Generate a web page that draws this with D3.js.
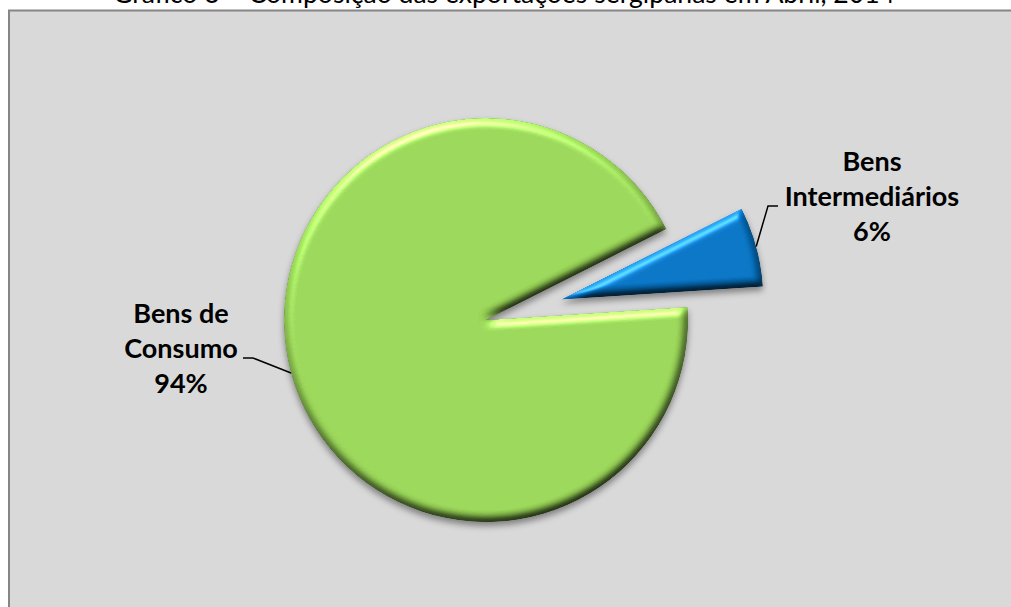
<!DOCTYPE html>
<html>
<head>
<meta charset="utf-8">
<script src="https://cdn.jsdelivr.net/npm/d3@7"></script>
<style>
  html, body { margin: 0; background: #fff; overflow: hidden; }
  svg { display: block; }
  text { font-family: Lato, "Liberation Sans", sans-serif; }
</style>
</head>
<body>
<div id="graph"></div>
<script>
// Data
const categories = ['Bens de Consumo', 'Bens Intermediários'];
const shares = [93.6, 6.4];
const labelNames = [['Bens de', 'Consumo'], ['Bens', 'Intermediários']];
const colors = ['#98d556', '#0572c2'];
const title = 'Gráfico 3 – Composição das exportações sergipanas em Abril, 2014';

const width = 1011, height = 607;
const cx = 486, cy = 320, radius = 202;
const rotation = 86.3 * Math.PI / 180;
const explode = [0, 78];

// label layout (x centre, first baseline, leader start)
const labelLayout = [
  { x: 181, y: 323, lx: 243, ly: 358, side: 1 },
  { x: 872, y: 171, lx: 778, ly: 206, side: -1 },
];
const lineH = 35;

const svg = d3.select('#graph')
  .append('svg')
    .attr('width', width)
    .attr('height', height);

// Bevel + shadow filter
const defs = svg.append('defs');
const f = defs.append('filter')
  .attr('id', 'bevel')
  .attr('color-interpolation-filters', 'sRGB')
  .attr('x', '-20%').attr('y', '-20%')
  .attr('width', '140%').attr('height', '140%');
f.append('feGaussianBlur').attr('in', 'SourceAlpha').attr('stdDeviation', 3).attr('result', 'sblur');
f.append('feOffset').attr('in', 'sblur').attr('dx', 0).attr('dy', 4).attr('result', 'soff');
f.append('feFlood').attr('flood-color', '#000').attr('flood-opacity', 0.4).attr('result', 'sc');
f.append('feComposite').attr('in', 'sc').attr('in2', 'soff').attr('operator', 'in').attr('result', 'shadow');
f.append('feGaussianBlur').attr('in', 'SourceAlpha').attr('stdDeviation', 4).attr('result', 'bblur');
f.append('feDiffuseLighting')
    .attr('in', 'bblur').attr('surfaceScale', 5).attr('diffuseConstant', 1)
    .attr('lighting-color', '#fff').attr('result', 'diff')
  .append('feDistantLight').attr('azimuth', 250).attr('elevation', 55);
f.append('feComposite').attr('in', 'SourceGraphic').attr('in2', 'diff')
  .attr('operator', 'arithmetic').attr('k1', 1.2).attr('k2', 0).attr('k3', 0).attr('k4', 0)
  .attr('result', 'lit');
f.append('feSpecularLighting')
    .attr('in', 'bblur').attr('surfaceScale', 5).attr('specularConstant', 0.7)
    .attr('specularExponent', 25).attr('lighting-color', '#fff').attr('result', 'spec')
  .append('feDistantLight').attr('azimuth', 250).attr('elevation', 40);
f.append('feComposite').attr('in', 'spec').attr('in2', 'SourceAlpha').attr('operator', 'in').attr('result', 'specIn');
f.append('feComposite').attr('in', 'lit').attr('in2', 'specIn')
  .attr('operator', 'arithmetic').attr('k1', 0).attr('k2', 1).attr('k3', 0.5).attr('k4', 0)
  .attr('result', 'litSpec');
f.append('feComposite').attr('in', 'litSpec').attr('in2', 'SourceAlpha').attr('operator', 'in').attr('result', 'body');
const merge = f.append('feMerge');
merge.append('feMergeNode').attr('in', 'shadow');
merge.append('feMergeNode').attr('in', 'body');

// Chart area: fill runs off the right and bottom, border only left/top
svg.append('rect')
  .attr('x', 9).attr('y', 10.5)
  .attr('width', width - 9).attr('height', height - 10.5)
  .style('fill', '#d9d9d9');
svg.append('path')
  .attr('d', `M9,${height} V10.5 H${width}`)
  .style('fill', 'none')
  .style('stroke', '#868686')
  .style('stroke-width', 2);

// Title (top cut off)
svg.append('text')
  .attr('x', 504).attr('y', 3)
  .attr('text-anchor', 'middle')
  .attr('textLength', 782)
  .attr('lengthAdjust', 'spacingAndGlyphs')
  .style('font-size', '26px')
  .style('fill', '#000')
  .text(title);

// Pie
const pie = d3.pie().sort(null)
  .startAngle(rotation).endAngle(rotation + 2 * Math.PI);
const arcs = pie(shares);
const arc = d3.arc().innerRadius(0).outerRadius(radius);
const rimArc = d3.arc().innerRadius(radius).outerRadius(radius);

const offset = (d, i) => {
  const a = (d.startAngle + d.endAngle) / 2;
  return [explode[i] * Math.sin(a), -explode[i] * Math.cos(a)];
};

const g = svg.append('g').attr('transform', `translate(${cx},${cy})`);

g.selectAll('path.slice')
  .data(arcs)
  .join('path')
    .attr('class', 'slice')
    .attr('transform', (d, i) => `translate(${offset(d, i)})`)
    .attr('d', arc)
    .attr('filter', 'url(#bevel)')
    .style('fill', (d, i) => colors[i]);

// Leader lines
g.selectAll('polyline.leader')
  .data(arcs)
  .join('polyline')
    .attr('class', 'leader')
    .attr('points', (d, i) => {
      const o = offset(d, i);
      const c = rimArc.centroid(d);
      const L = labelLayout[i];
      const sx = L.lx - cx, sy = L.ly - cy;
      return [[sx, sy], [sx + 10 * L.side, sy], [c[0] + o[0], c[1] + o[1]]].join(' ');
    })
    .style('fill', 'none')
    .style('stroke', '#000')
    .style('stroke-width', 1.5);

// Labels
const labels = svg.selectAll('text.label')
  .data(arcs)
  .join('text')
    .attr('class', 'label')
    .attr('text-anchor', 'middle')
    .style('font-size', '27px')
    .style('font-weight', 'bold')
    .style('fill', '#000');

labels.each(function (d, i) {
  const L = labelLayout[i];
  const lines = labelNames[i].concat([Math.round(shares[i]) + '%']);
  d3.select(this).selectAll('tspan')
    .data(lines)
    .join('tspan')
      .attr('x', L.x)
      .attr('y', (t, j) => L.y + j * lineH)
      .text((t) => t);
});
</script>
</body>
</html>
